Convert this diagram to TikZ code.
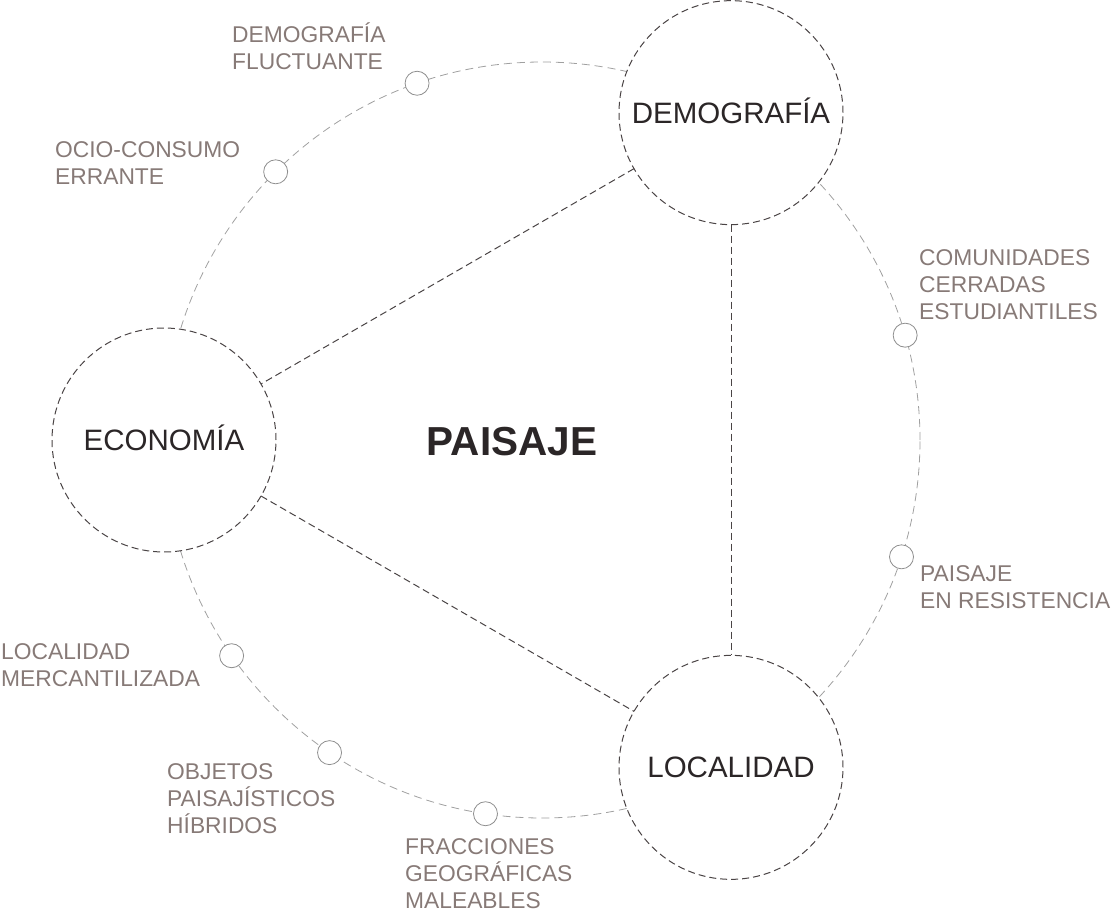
\documentclass[tikz,border=0pt]{standalone}
\usepackage{fontspec}
\setmainfont{Liberation Sans}
\definecolor{darktxt}{HTML}{2B2627}
\definecolor{circline}{HTML}{4A4445}
\definecolor{ringline}{HTML}{A0A0A0}
\definecolor{smallline}{HTML}{8E8E8E}
\definecolor{lbltxt}{HTML}{877A77}
\begin{document}
\begin{tikzpicture}[x=1pt,y=-1pt,
  bigc/.style={circle, draw=circline, fill=white, dash pattern=on 7pt off 4pt,
    line width=1pt, minimum size=224pt, inner sep=0pt, outer sep=0pt,
    font=\fontsize{29.5}{34}\selectfont, text=darktxt, text height=21.1pt, text depth=0pt},
  smallc/.style={circle, draw=smallline, fill=white, line width=0.8pt,
    minimum size=24pt, inner sep=0pt, outer sep=0pt},
  ring/.style={draw=ringline, line width=0.8pt, dash pattern=on 8pt off 5pt},
  inner/.style={draw=circline, line width=1pt, dash pattern=on 7pt off 4pt},
  lbl/.style={anchor=base west, inner sep=0pt, text=lbltxt,
    font=\fontsize{22.8}{27.3}\selectfont},
  title/.style={inner sep=0pt, text=darktxt, font=\fontsize{40.5}{46}\selectfont\bfseries,
    text height=29pt, text depth=0pt}
]
\useasboundingbox (0,0) rectangle (1112,918);
\coordinate (O) at (542,440);
% outer ring
\draw[ring] (O) circle[radius=378pt];
% small circles on the ring (y axis points down, so angles are negated)
\node[smallc] (s1) at ([shift={(-109.3:378)}]O) {};
\node[smallc] (s2) at ([shift={(-134.8:378)}]O) {};
\node[smallc] (s3) at ([shift={(-16.1:378)}]O) {};
\node[smallc] (s4) at ([shift={(18:378)}]O) {};
\node[smallc] (s5) at ([shift={(-214.8:378)}]O) {};
\node[smallc] (s6) at ([shift={(-235.8:378)}]O) {};
\node[smallc] (s7) at ([shift={(-261.4:378)}]O) {};
% big circles
\node[bigc] (dem) at ([shift={(-60:378)}]O) {DEMOGRAFÍA};
\node[bigc] (eco) at ([shift={(180:378)}]O) {ECONOMÍA};
\node[bigc] (loc) at ([shift={(60:378)}]O) {LOCALIDAD};
% inner triangle
\draw[inner] (dem) -- (eco);
\draw[inner] (eco) -- (loc);
\draw[inner] (dem) -- (loc);
% title
\node[title] (pai) at (512,440.5) {PAISAJE};
% labels
\node[lbl] (l1) at (232,42) {\vtop{\hbox{DEMOGRAFÍA}\hbox{FLUCTUANTE}}};
\node[lbl] (l2) at (55,157) {\vtop{\hbox{OCIO-CONSUMO}\hbox{ERRANTE}}};
\node[lbl] (l3) at (919,265) {\vtop{\hbox{COMUNIDADES}\hbox{CERRADAS}\hbox{ESTUDIANTILES}}};
\node[lbl] (l4) at (920,581) {\vtop{\hbox{PAISAJE}\hbox{EN RESISTENCIA}}};
\node[lbl] (l5) at (1,659) {\vtop{\hbox{LOCALIDAD}\hbox{MERCANTILIZADA}}};
\node[lbl] (l6) at (167,779) {\vtop{\hbox{OBJETOS}\hbox{PAISAJÍSTICOS}\hbox{HÍBRIDOS}}};
\node[lbl] (l7) at (405,854) {\vtop{\hbox{FRACCIONES}\hbox{GEOGRÁFICAS}\hbox{MALEABLES}}};
\end{tikzpicture}
\end{document}
